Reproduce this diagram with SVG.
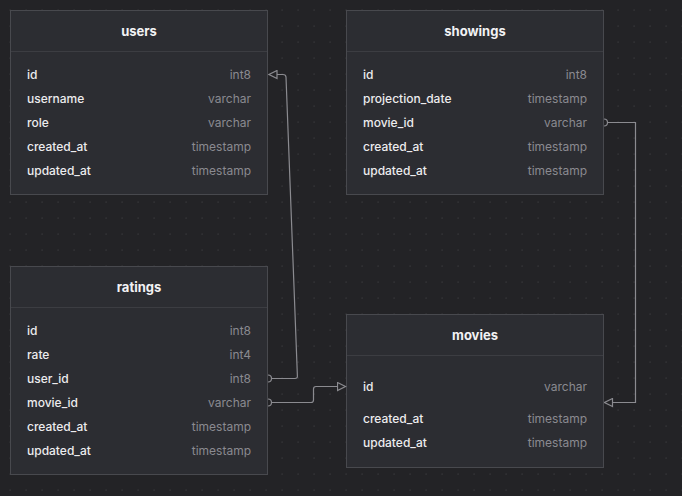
<svg xmlns="http://www.w3.org/2000/svg" width="682" height="496" viewBox="0 0 682 496">
<defs>
<pattern id="dots" x="0" y="0" width="16" height="16" patternUnits="userSpaceOnUse">
<rect x="9.5" y="9.5" width="1.2" height="1.2" fill="#3a3a3f"/>
</pattern>
<marker id="tri" viewBox="0 0 10 10" refX="9" refY="5" markerWidth="10" markerHeight="10" markerUnits="userSpaceOnUse" orient="auto">
<path d="M1,1 L9,5 L1,9 Z" fill="#232326" stroke="#8b8b90" stroke-width="1.2"/>
</marker>
<marker id="circ" viewBox="0 0 10 10" refX="1" refY="5" markerWidth="10" markerHeight="10" markerUnits="userSpaceOnUse" orient="auto">
<path d="M1,1.5 A3.5,3.5 0 0 1 1,8.5" fill="#232326" stroke="#8b8b90" stroke-width="1.2"/>
</marker>
</defs>
<style>
.card{fill:#2c2d32;stroke:#48494e;stroke-width:1}
.div{stroke:#3c3d42;stroke-width:1}
.title{font-family:Inter,"Liberation Sans",sans-serif;font-size:13px;font-weight:700;fill:#f2f2f4;text-anchor:middle}
.nm{font-family:Inter,"Liberation Sans",sans-serif;font-size:12px;font-weight:500;fill:#ececee}
.ty{font-family:Inter,"Liberation Sans",sans-serif;font-size:12px;fill:#8a8a90;text-anchor:end}
.conn{fill:none;stroke:#8b8b90;stroke-width:1.2}
</style>
<rect width="682" height="496" fill="#232326"/>
<rect width="682" height="496" fill="url(#dots)"/>

<g id="users">
<rect class="card" x="10.5" y="10.5" width="257" height="184"/>
<line class="div" x1="11" y1="51.5" x2="267" y2="51.5"/>
<text class="title" x="139" y="35.5">users</text>
<text class="nm" x="27" y="78.5">id</text><text class="ty" x="251" y="78.5">int8</text>
<text class="nm" x="27" y="102.5">username</text><text class="ty" x="251" y="102.5">varchar</text>
<text class="nm" x="27" y="126.5">role</text><text class="ty" x="251" y="126.5">varchar</text>
<text class="nm" x="27" y="150.5">created_at</text><text class="ty" x="251" y="150.5">timestamp</text>
<text class="nm" x="27" y="174.5">updated_at</text><text class="ty" x="251" y="174.5">timestamp</text>
</g>

<g id="showings">
<rect class="card" x="346.5" y="10.5" width="257" height="184"/>
<line class="div" x1="347" y1="51.5" x2="603" y2="51.5"/>
<text class="title" x="475" y="35.5">showings</text>
<text class="nm" x="363" y="78.5">id</text><text class="ty" x="587" y="78.5">int8</text>
<text class="nm" x="363" y="102.5">projection_date</text><text class="ty" x="587" y="102.5">timestamp</text>
<text class="nm" x="363" y="126.5">movie_id</text><text class="ty" x="587" y="126.5">varchar</text>
<text class="nm" x="363" y="150.5">created_at</text><text class="ty" x="587" y="150.5">timestamp</text>
<text class="nm" x="363" y="174.5">updated_at</text><text class="ty" x="587" y="174.5">timestamp</text>
</g>

<g id="ratings">
<rect class="card" x="10.5" y="266.5" width="257" height="208"/>
<line class="div" x1="11" y1="307.5" x2="267" y2="307.5"/>
<text class="title" x="139" y="291.5">ratings</text>
<text class="nm" x="27" y="334.5">id</text><text class="ty" x="251" y="334.5">int8</text>
<text class="nm" x="27" y="358.5">rate</text><text class="ty" x="251" y="358.5">int4</text>
<text class="nm" x="27" y="382.5">user_id</text><text class="ty" x="251" y="382.5">int8</text>
<text class="nm" x="27" y="406.5">movie_id</text><text class="ty" x="251" y="406.5">varchar</text>
<text class="nm" x="27" y="430.5">created_at</text><text class="ty" x="251" y="430.5">timestamp</text>
<text class="nm" x="27" y="454.5">updated_at</text><text class="ty" x="251" y="454.5">timestamp</text>
</g>

<g id="movies">
<rect class="card" x="346.5" y="314.5" width="257" height="153"/>
<line class="div" x1="347" y1="355.5" x2="603" y2="355.5"/>
<text class="title" x="475" y="339.5">movies</text>
<text class="nm" x="363" y="390.5">id</text><text class="ty" x="587" y="390.5">varchar</text>
<text class="nm" x="363" y="422.5">created_at</text><text class="ty" x="587" y="422.5">timestamp</text>
<text class="nm" x="363" y="446.5">updated_at</text><text class="ty" x="587" y="446.5">timestamp</text>
</g>

<g id="connectors">
<path class="conn" marker-start="url(#circ)" marker-end="url(#tri)" d="M268,378.5 L295,378.5 Q297.5,378.5 297.4,376 L286,77 Q285.8,74.5 283,74.5 L269,74.5"/>
<path class="conn" marker-start="url(#circ)" marker-end="url(#tri)" d="M268,402.5 L311,402.5 Q313.5,402.5 313.5,400 L313.5,389 Q313.5,386.5 316,386.5 L345.5,386.5"/>
<path class="conn" marker-start="url(#circ)" marker-end="url(#tri)" d="M604,122.5 L635.5,122.5 L635.5,402.5 L604.5,402.5"/>
</g>
</svg>
